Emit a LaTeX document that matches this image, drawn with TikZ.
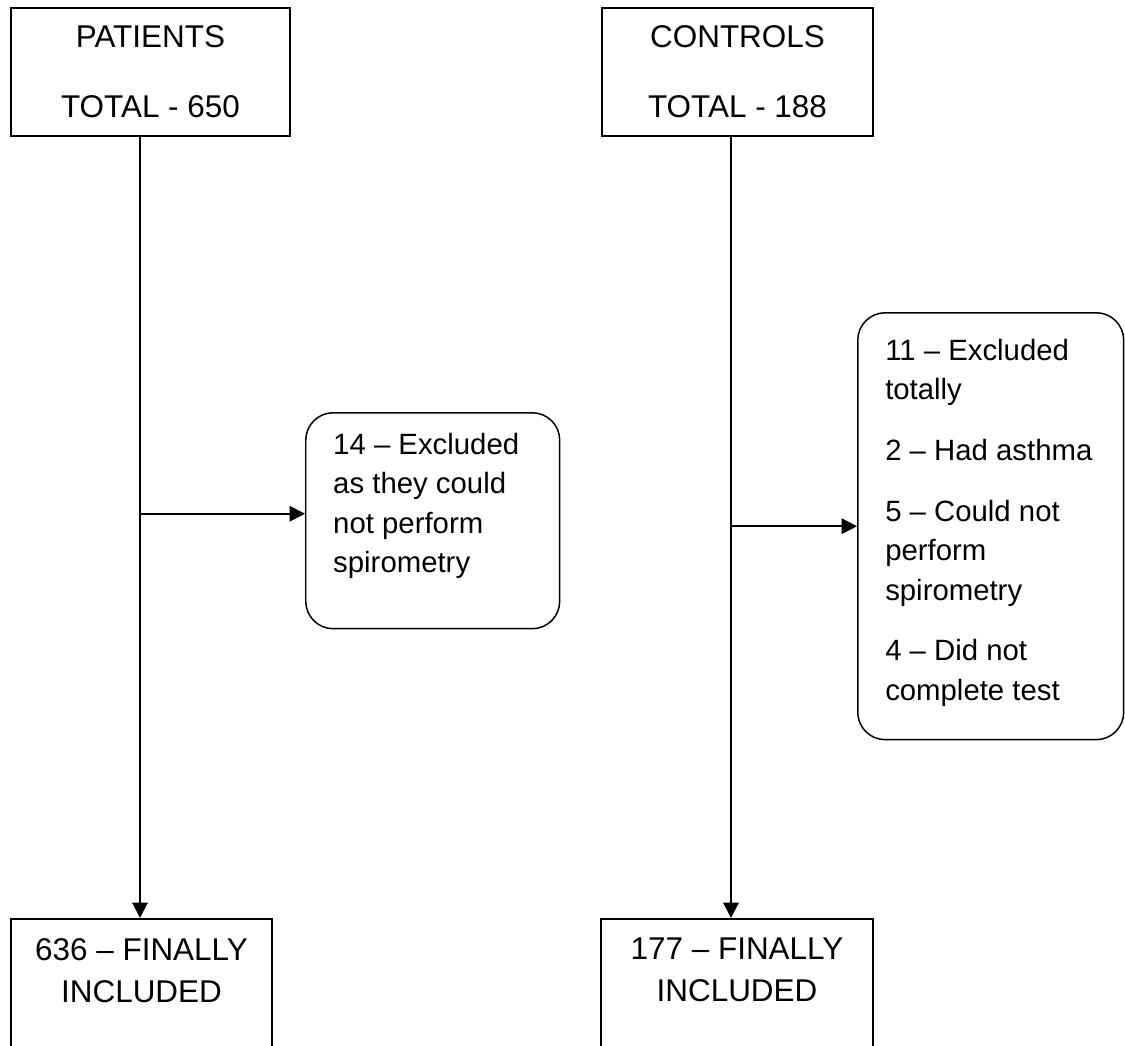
\documentclass[tikz,border=0pt]{standalone}
\usepackage{fontspec}
\setmainfont{Liberation Sans}
\usepackage{tikz}
\usetikzlibrary{arrows.meta,positioning,calc}

\begin{document}
\begin{tikzpicture}[%
    >={Triangle[length=3.1mm,width=3.1mm]},   % filled arrow heads
    x=0.02cm, y=-0.02cm,                  % one unit = one pixel of the layout
    head/.style={draw, line width=0.85pt, inner sep=0pt, align=center,
        font={\fontsize{17.9}{23.9}\selectfont}},
    excl/.style={draw, line width=0.85pt, rounded corners=0.55cm,
        inner xsep=0.55cm, inner ysep=0.4cm, anchor=north west,
        font={\fontsize{16.7}{22.5}\selectfont}},
    final/.style={draw, line width=0.85pt, inner xsep=0pt, inner ysep=0.39cm,
        anchor=north, font={\fontsize{17.9}{23.9}\selectfont}},
    arr/.style={->, line width=1.15pt}
    ]

    \useasboundingbox (0,0) rectangle (1125,1045);
    \clip (0,0) rectangle (1125,1045);

    % top boxes
    \node[head, minimum width=5.58cm, minimum height=2.56cm] at (150.5,72) (pat)
        {PATIENTS\\[15.9pt]TOTAL - 650};
    \node[head, minimum width=5.42cm, minimum height=2.56cm] at (737.5,72) (ctl)
        {CONTROLS\\[15.9pt]TOTAL - 188};

    % exclusions
    \node[excl] at (305,412) (patout)
        {\parbox[c][3.52cm][t]{3.98cm}{\raggedright
        14 -- Excluded\\ as they could\\ not perform\\ spirometry}};
    \node[excl] at (857,312) (ctlout)
        {\parbox[c][7.74cm][t]{4.22cm}{\raggedright\vspace*{0.12cm}
        11 -- Excluded\\ totally\\[12.1pt]
        2 -- Had asthma\\[12.1pt]
        5 -- Could not\\ perform\\ spirometry\\[12.1pt]
        4 -- Did not\\ complete test}};

    % final counts
    \node[final] at (141.5,918) (patin)
        {\parbox[c][2.42cm][t]{5.22cm}{\centering 636 -- FINALLY\\ INCLUDED}};
    \node[final] at (737,918) (ctlin)
        {\parbox[c][2.42cm][t]{5.44cm}{\centering 177 -- FINALLY\\ INCLUDED}};

    \coordinate (pl) at ([xshift=-0.21cm]pat.south);
    \coordinate (cl) at ([xshift=-0.13cm]ctl.south);
    \coordinate (pe) at ([yshift=0.14cm]patout.west);

    \draw[arr] (pl) -- (pl |- patin.north);
    \draw[arr] (pl |- pe) -- (pe);
    \draw[arr] (cl) -- (cl |- ctlin.north);
    \draw[arr] (cl |- ctlout.west) -- (ctlout.west);
\end{tikzpicture}
\end{document}
